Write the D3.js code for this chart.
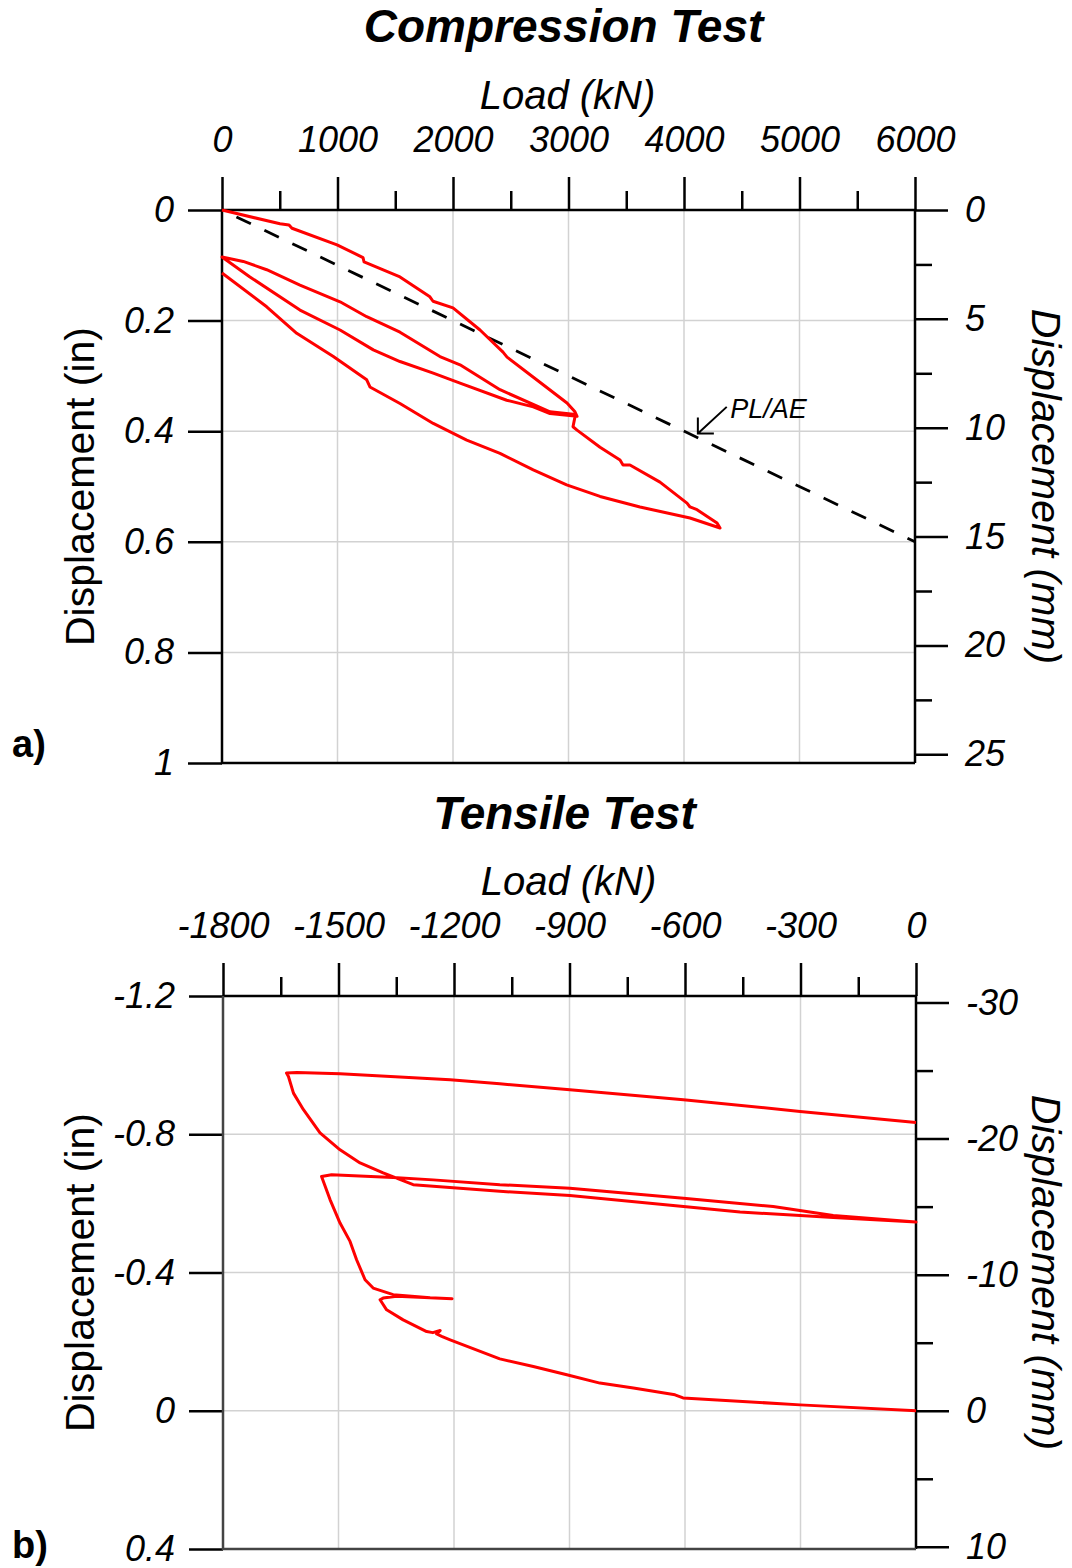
<!DOCTYPE html>
<html>
<head>
<meta charset="utf-8">
<script src="https://cdn.jsdelivr.net/npm/d3@7"></script>
<style>
  body { margin: 0; background: #fff; }
  svg text { font-family: "Liberation Sans", Arial, sans-serif; fill: #000; }
</style>
</head>
<body>
<div class="chart"></div>
<script>
// ---- compression test (panel a) ----
var compLoad = [0, 502, 580, 606, 996, 1221, 1230, 1541, 1800, 1827, 2000, 2234, 2433, 2468, 2693, 2987, 3056, 3074,
  2840, 2695, 2465, 2061, 1829, 1541, 1310, 1022, 675, 242, 0,
  184, 387, 675, 1022, 1253, 1541, 1887, 2061, 2407, 2840, 3060,
  3039, 3074, 3273, 3446, 3472, 3532, 3792, 4026, 4052, 4113, 4286, 4312,
  4052, 3619, 3273, 2984, 2695, 2407, 2119, 1829, 1541, 1281, 1253, 964, 647, 387, 0];
var compDisp = [0, 0.025, 0.027, 0.033, 0.063, 0.086, 0.094, 0.121, 0.157, 0.165, 0.177, 0.217, 0.257, 0.266, 0.302, 0.349, 0.365, 0.373,
  0.368, 0.356, 0.344, 0.313, 0.295, 0.274, 0.253, 0.217, 0.181, 0.121, 0.085,
  0.093, 0.108, 0.136, 0.166, 0.193, 0.221, 0.265, 0.280, 0.325, 0.365, 0.370,
  0.392, 0.398, 0.429, 0.452, 0.461, 0.461, 0.492, 0.530, 0.537, 0.542, 0.566, 0.575,
  0.557, 0.537, 0.518, 0.497, 0.470, 0.440, 0.416, 0.386, 0.350, 0.320, 0.307, 0.265, 0.223, 0.175, 0.114];
var plAeLoad = [0, 6000];
var plAeDisp = [0, 0.6];

// ---- tensile test (panel b) ----
var tensLoad = [0, -301, -605, -626, -734, -821, -907, -994, -1081, -1210, -1232, -1245, -1236, -1255, -1271, -1332, -1375, -1392, -1384, -1349, -1205,
  -1262, -1358, -1410, -1431, -1453, -1470, -1496, -1522, -1544,
  -1518, -1358, -1254, -1081, -899, -604, -371, -215, 0,
  -215, -301, -457, -604, -899, -1081, -1306,
  -1384, -1444, -1496, -1548, -1591, -1617, -1630, -1635,
  -1608, -1496, -1210, -1081, -899, -604, -301, 0];
var tensDisp = [0, -0.017, -0.037, -0.046, -0.066, -0.080, -0.104, -0.128, -0.150, -0.205, -0.215, -0.222, -0.232, -0.226, -0.229, -0.263, -0.292, -0.321, -0.326, -0.331, -0.324,
  -0.327, -0.336, -0.355, -0.379, -0.437, -0.490, -0.543, -0.611, -0.678,
  -0.683, -0.675, -0.668, -0.654, -0.644, -0.615, -0.591, -0.565, -0.546,
  -0.559, -0.565, -0.575, -0.591, -0.623, -0.635, -0.654,
  -0.688, -0.717, -0.755, -0.804, -0.871, -0.919, -0.967, -0.977,
  -0.979, -0.975, -0.958, -0.946, -0.929, -0.900, -0.866, -0.834];

// ticks
var compLoadTicks = [0, 1000, 2000, 3000, 4000, 5000, 6000];
var compLoadMinor = [500, 1500, 2500, 3500, 4500, 5500];
var compInTicks = [0, 0.2, 0.4, 0.6, 0.8, 1];
var compMmTicks = [0, 5, 10, 15, 20, 25];
var compMmMinor = [2.5, 7.5, 12.5, 17.5, 22.5];
var tensLoadTicks = [-1800, -1500, -1200, -900, -600, -300, 0];
var tensLoadMinor = [-1650, -1350, -1050, -750, -450, -150];
var tensInTicks = [-1.2, -0.8, -0.4, 0, 0.4];
var tensMmTicks = [-30, -20, -10, 0, 10];
var tensMmMinor = [-25, -15, -5, 5];

var width = 1072, height = 1568;
var svg = d3.select(".chart").append("svg")
  .attr("width", width)
  .attr("height", height);

function drawPanel(p) {
  var x = d3.scaleLinear().domain(p.xDomain).range([p.left, p.right]);
  var y = d3.scaleLinear().domain(p.yDomain).range([p.top, p.bottom]);
  var yMm = d3.scaleLinear().domain([p.yDomain[0] * 25.4, p.yDomain[1] * 25.4]).range([p.top, p.bottom]);
  var fmt = function(d) { return String(d); };
  var g = svg.append("g");

  // gridlines
  g.selectAll(".vgrid").data(p.xTicks.slice(1, -1)).enter().append("line")
    .attr("x1", x).attr("x2", x).attr("y1", p.top).attr("y2", p.bottom)
    .attr("stroke", "#d2d2d2").attr("stroke-width", 1.5);
  g.selectAll(".hgrid").data(p.yTicks.slice(1, -1)).enter().append("line")
    .attr("y1", y).attr("y2", y).attr("x1", p.left).attr("x2", p.right)
    .attr("stroke", "#d2d2d2").attr("stroke-width", 1.5);

  // axes
  g.append("g").attr("transform", "translate(0," + p.top + ")")
    .call(d3.axisTop(x).tickValues(p.xTicks).tickSize(33).tickSizeOuter(0).tickPadding(25).tickFormat(fmt));
  g.append("g").attr("transform", "translate(0," + p.top + ")")
    .call(d3.axisTop(x).tickValues(p.xMinor).tickSize(19).tickSizeOuter(0).tickFormat(""));
  g.append("g").attr("transform", "translate(" + p.left + ",0)")
    .call(d3.axisLeft(y).tickValues(p.yTicks).tickSize(34).tickSizeOuter(0).tickPadding(14).tickFormat(fmt));
  g.append("g").attr("transform", "translate(" + p.right + ",0)")
    .call(d3.axisRight(yMm).tickValues(p.mmTicks).tickSize(33).tickSizeOuter(0).tickPadding(17).tickFormat(fmt));
  g.append("g").attr("transform", "translate(" + p.right + ",0)")
    .call(d3.axisRight(yMm).tickValues(p.mmMinor).tickSize(17).tickSizeOuter(0).tickFormat(""));

  g.selectAll(".domain").remove();
  g.selectAll(".tick line").attr("stroke", "#000").attr("stroke-width", 2.5);
  g.selectAll(".tick text")
    .attr("font-family", "Liberation Sans, Arial, sans-serif")
    .attr("font-size", 36).attr("font-style", "italic");

  // frame
  g.append("path")
    .attr("d", "M" + p.left + "," + p.top + "H" + p.right + "V" + p.bottom)
    .attr("fill", "none").attr("stroke", "#000").attr("stroke-width", 2.5);
  g.append("path")
    .attr("d", "M" + p.left + "," + p.top + "V" + p.bottom + "H" + p.right)
    .attr("fill", "none").attr("stroke", p.bottomColor).attr("stroke-width", 2.5);

  // dashed PL/AE reference
  if (p.refX) {
    g.append("path")
      .datum(d3.range(p.refX.length))
      .attr("d", d3.line().x(function(i) { return x(p.refX[i]); }).y(function(i) { return y(p.refY[i]); }))
      .attr("fill", "none").attr("stroke", "#000").attr("stroke-width", 2.8)
      .attr("stroke-dasharray", "16,15").attr("stroke-dashoffset", 15);
  }

  // test curve
  g.append("path")
    .datum(d3.range(p.load.length))
    .attr("d", d3.line().x(function(i) { return x(p.load[i]); }).y(function(i) { return y(p.disp[i]); }))
    .attr("fill", "none").attr("stroke", "#ff0000").attr("stroke-width", 3)
    .attr("stroke-linejoin", "round");

  // titles
  var cx = (p.left + p.right) / 2;
  g.append("text").attr("x", cx - 5).attr("y", p.titleY)
    .attr("text-anchor", "middle").attr("font-size", 46)
    .attr("font-weight", "bold").attr("font-style", "italic").text(p.title);
  g.append("text").attr("x", cx - 1).attr("y", p.top - 101)
    .attr("text-anchor", "middle").attr("font-size", 40)
    .attr("font-style", "italic").text("Load (kN)");
  var cy = (p.top + p.bottom) / 2;
  g.append("text")
    .attr("transform", "translate(80," + cy + ") rotate(-90)")
    .attr("text-anchor", "middle").attr("dominant-baseline", "central")
    .attr("font-size", 41).text("Displacement (in)");
  g.append("text")
    .attr("transform", "translate(1046," + cy + ") rotate(90)")
    .attr("text-anchor", "middle").attr("dominant-baseline", "central")
    .attr("font-size", 41).attr("font-style", "italic").text("Displacement (mm)");
  g.append("text").attr("x", 12).attr("y", p.panelY)
    .attr("font-size", 38).attr("font-weight", "bold").text(p.panel);

  return { x: x, y: y, g: g };
}

var a = drawPanel({
  xDomain: [0, 6000], yDomain: [0, 1], left: 222, right: 915, top: 210, bottom: 763,
  xTicks: compLoadTicks, xMinor: compLoadMinor, yTicks: compInTicks,
  mmTicks: compMmTicks, mmMinor: compMmMinor,
  load: compLoad, disp: compDisp, refX: plAeLoad, refY: plAeDisp,
  title: "Compression Test", titleY: 42, panel: "a)", panelY: 757, bottomColor: "#000"
});

// PL/AE annotation
var tip = [4120, 0.404], tail = [4370, 0.356];
var tx = a.x(tip[0]), ty = a.y(tip[1]);
a.g.append("path")
  .attr("d", "M" + a.x(tail[0]) + "," + a.y(tail[1]) + "L" + tx + "," + ty +
    "M" + tx + "," + (ty - 16) + "L" + tx + "," + ty + "L" + (tx + 16) + "," + ty)
  .attr("fill", "none").attr("stroke", "#000").attr("stroke-width", 2);
a.g.append("text").attr("x", a.x(4400)).attr("y", a.y(0.376))
  .attr("font-size", 27).attr("font-style", "italic").text("PL/AE");

drawPanel({
  xDomain: [-1800, 0], yDomain: [-1.2, 0.4], left: 223, right: 916, top: 996, bottom: 1549,
  xTicks: tensLoadTicks, xMinor: tensLoadMinor, yTicks: tensInTicks,
  mmTicks: tensMmTicks, mmMinor: tensMmMinor,
  load: tensLoad, disp: tensDisp,
  title: "Tensile Test", titleY: 829, panel: "b)", panelY: 1558, bottomColor: "#444"
});
</script>
</body>
</html>
